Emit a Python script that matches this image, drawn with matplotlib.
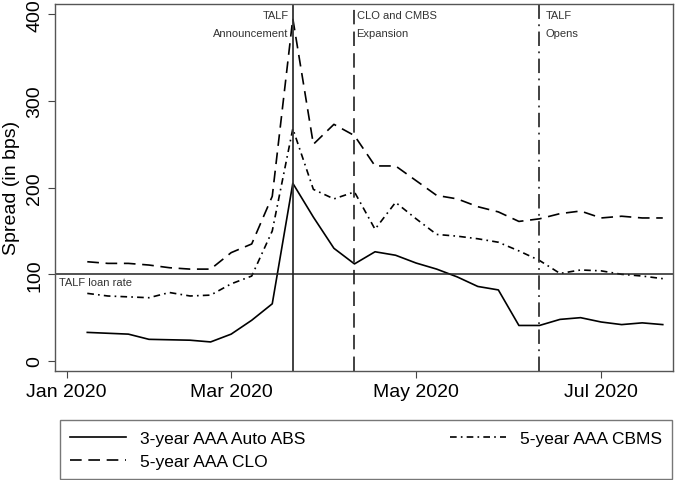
import matplotlib.pyplot as plt

plt.rcParams['font.family'] = ['Liberation Sans', 'DejaVu Sans']

# weekly data (week of year 2020)
weeks = list(range(2, 31))
auto_abs = [33, 32, 31, 25, 24.5, 24, 22, 31, 47, 66, 205, 166, 130, 112, 126,
            122, 113, 106, 97, 86, 82, 41, 41, 48, 50, 45, 42, 44, 42]
cbms = [78, 75, 74, 73, 79, 75, 76, 89, 98, 150, 268, 198, 187, 195, 152,
        183, 164, 146, 144, 141, 137, 127, 116, 101, 105, 104, 100, 98, 95]
clo = [114.5, 112.6, 112.6, 110.7, 107.6, 106, 106, 125, 135, 190, 395, 250, 273, 260, 225,
       225, 208, 191, 187, 178, 172, 161, 164, 170, 173, 165, 167, 165, 165]

tick_weeks = [1, 9, 18, 27]
tick_labels = ['Jan 2020', 'Mar 2020', 'May 2020', 'Jul 2020']
yticks = [0, 100, 200, 300, 400]

events = [12, 15, 24]
event_labels = ['TALF\nAnnouncement', 'CLO and CMBS\nExpansion', 'TALF\nOpens']
talf_rate = 100

fig = plt.figure(figsize=(6.75, 4.81), dpi=100)
ax = fig.add_axes([0.0815, 0.2272, 0.9156, 0.7624])

l1, = ax.plot(weeks, auto_abs, color='black', lw=1.2, label='3-year AAA Auto ABS')
l3, = ax.plot(weeks, cbms, color='black', lw=1.2, dashes=(4, 2.5, 1, 2.5), label='5-year AAA CBMS')
l2, = ax.plot(weeks, clo, color='black', lw=1.2, dashes=(7, 4), label='5-year AAA CLO')

# event lines
ax.axvline(events[0], color='#333333', lw=1.3)
ax.axvline(events[1], color='#333333', lw=1.3, dashes=(8, 4))
ax.axvline(events[2], color='#333333', lw=1.3, dashes=(8, 3, 1, 3))
ax.axhline(talf_rate, color='#222222', lw=1.1)

tr = ax.get_xaxis_transform()
ax.text(events[0] - 0.2, 0.985, event_labels[0], transform=tr, ha='right', va='top',
        fontsize=8, color='#333333', linespacing=2.0, multialignment='right')
ax.text(events[1] + 0.1, 0.985, event_labels[1], transform=tr, ha='left', va='top',
        fontsize=8, color='#333333', linespacing=2.0)
ax.text(events[2] + 0.3, 0.985, event_labels[2], transform=tr, ha='left', va='top',
        fontsize=8, color='#333333', linespacing=2.0)
ax.text(0.6, talf_rate - 3, 'TALF loan rate', ha='left', va='top', fontsize=8, color='#333333')

ax.set_xlim(0.43, 30.5)
ax.set_ylim(-11.2, 411.8)
ax.set_xticks(tick_weeks)
ax.set_xticklabels(tick_labels, fontsize=14)
ax.set_yticks(yticks)
ax.set_yticklabels([str(v) for v in yticks], fontsize=14, rotation=90, va='center')
ax.tick_params(axis='both', direction='out', length=5, color='#444444')
ax.set_ylabel('Spread (in bps)', fontsize=14)
ax.yaxis.set_label_coords(-0.056, 0.5)

for s in ax.spines.values():
    s.set_color('#555555')
    s.set_linewidth(1.0)

fig.legend(handles=[l1, l2, l3], ncol=2, loc='lower left',
           bbox_to_anchor=(60 / 675, 1 / 481, 612 / 675, 65 / 481), mode='expand',
           fontsize=12.5, frameon=True, fancybox=False, edgecolor='#555555',
           handlelength=3.2, borderaxespad=0, labelspacing=0.45, borderpad=0.6)

plt.savefig('out.png', dpi=100)
